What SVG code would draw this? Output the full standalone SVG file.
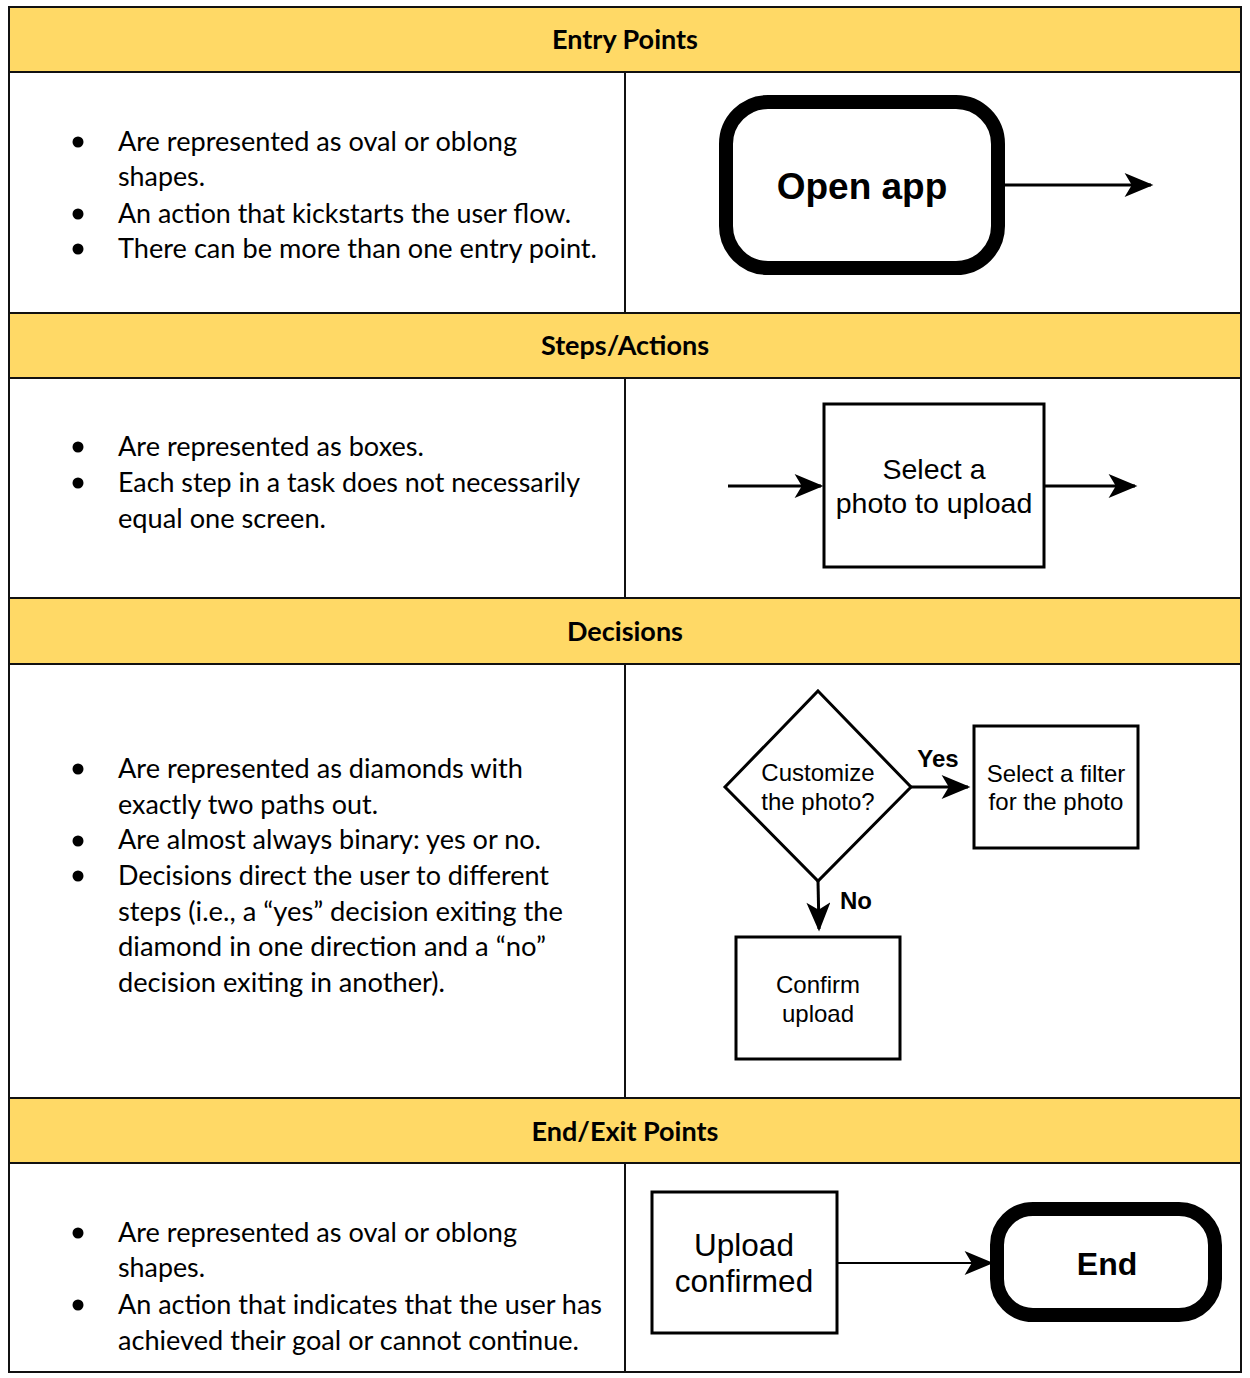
<svg xmlns="http://www.w3.org/2000/svg" width="1250" height="1378" viewBox="0 0 1250 1378">
<style>
.hdr{fill:#FFD966;stroke:#111;stroke-width:2}
.cell{fill:#fff;stroke:#111;stroke-width:2}
.ht{font-family:Lato,"Open Sans",sans-serif;font-weight:bold;font-size:27px;fill:#000;text-anchor:middle}
.bt{font-family:Lato,"Open Sans",sans-serif;font-size:26px;fill:#000}
.dot{fill:#000}
.box{fill:#fff;stroke:#000;stroke-width:3}
.term{fill:#fff;stroke:#000;stroke-width:14}
.nt{font-family:"Liberation Sans",Arial,sans-serif;fill:#000;text-anchor:middle}
.ln{stroke:#000;stroke-width:3;fill:none}
</style>
<defs>
<marker id="ahb" viewBox="0 0 12 10" refX="11" refY="5" markerWidth="30" markerHeight="24" markerUnits="userSpaceOnUse" orient="auto">
<path d="M0,0 L12,5 L0,10 L3,5 Z" fill="#000"/>
</marker>
</defs>
<rect width="1250" height="1378" fill="#fff"/>
<g id="table">
<rect class="cell" x="9" y="7" width="1232" height="1365"/>
<rect class="hdr" x="9" y="7" width="1232" height="65"/>
<rect class="hdr" x="9" y="313" width="1232" height="65"/>
<rect class="hdr" x="9" y="598" width="1232" height="66"/>
<rect class="hdr" x="9" y="1098" width="1232" height="65"/>
<line x1="625" y1="72" x2="625" y2="313" stroke="#111" stroke-width="2"/>
<line x1="625" y1="378" x2="625" y2="598" stroke="#111" stroke-width="2"/>
<line x1="625" y1="664" x2="625" y2="1098" stroke="#111" stroke-width="2"/>
<line x1="625" y1="1163" x2="625" y2="1372" stroke="#111" stroke-width="2"/>
<text class="ht" x="625" y="49">Entry Points</text>
<text class="ht" x="625" y="355">Steps/Actions</text>
<text class="ht" x="625" y="641">Decisions</text>
<text class="ht" x="625" y="1141">End/Exit Points</text>
</g>
<g id="entry-text">
<circle class="dot" cx="78" cy="142" r="5.5"/>
<circle class="dot" cx="78" cy="214" r="5.5"/>
<circle class="dot" cx="78" cy="249" r="5.5"/>
<text class="bt" x="118" y="151" textLength="399" lengthAdjust="spacingAndGlyphs">Are represented as oval or oblong</text>
<text class="bt" x="118" y="186" textLength="87" lengthAdjust="spacingAndGlyphs">shapes.</text>
<text class="bt" x="118" y="223" textLength="453" lengthAdjust="spacingAndGlyphs">An action that kickstarts the user flow.</text>
<text class="bt" x="118" y="258" textLength="479" lengthAdjust="spacingAndGlyphs">There can be more than one entry point.</text>
</g>
<g id="steps-text">
<circle class="dot" cx="78" cy="447" r="5.5"/>
<circle class="dot" cx="78" cy="483" r="5.5"/>
<text class="bt" x="118" y="456" textLength="306" lengthAdjust="spacingAndGlyphs">Are represented as boxes.</text>
<text class="bt" x="118" y="492" textLength="462" lengthAdjust="spacingAndGlyphs">Each step in a task does not necessarily</text>
<text class="bt" x="118" y="528" textLength="208" lengthAdjust="spacingAndGlyphs">equal one screen.</text>
</g>
<g id="decisions-text">
<circle class="dot" cx="78" cy="769" r="5.5"/>
<circle class="dot" cx="78" cy="841" r="5.5"/>
<circle class="dot" cx="78" cy="876" r="5.5"/>
<text class="bt" x="118" y="778" textLength="405" lengthAdjust="spacingAndGlyphs">Are represented as diamonds with</text>
<text class="bt" x="118" y="814" textLength="260" lengthAdjust="spacingAndGlyphs">exactly two paths out.</text>
<text class="bt" x="118" y="849" textLength="423" lengthAdjust="spacingAndGlyphs">Are almost always binary: yes or no.</text>
<text class="bt" x="118" y="885" textLength="431" lengthAdjust="spacingAndGlyphs">Decisions direct the user to different</text>
<text class="bt" x="118" y="921" textLength="445" lengthAdjust="spacingAndGlyphs">steps (i.e., a “yes” decision exiting the</text>
<text class="bt" x="118" y="956" textLength="428" lengthAdjust="spacingAndGlyphs">diamond in one direction and a “no”</text>
<text class="bt" x="118" y="992" textLength="327" lengthAdjust="spacingAndGlyphs">decision exiting in another).</text>
</g>
<g id="end-text">
<circle class="dot" cx="78" cy="1233" r="5.5"/>
<circle class="dot" cx="78" cy="1305" r="5.5"/>
<text class="bt" x="118" y="1242" textLength="399" lengthAdjust="spacingAndGlyphs">Are represented as oval or oblong</text>
<text class="bt" x="118" y="1277" textLength="87" lengthAdjust="spacingAndGlyphs">shapes.</text>
<text class="bt" x="118" y="1314" textLength="484" lengthAdjust="spacingAndGlyphs">An action that indicates that the user has</text>
<text class="bt" x="118" y="1350" textLength="461" lengthAdjust="spacingAndGlyphs">achieved their goal or cannot continue.</text>
</g>
<g id="connectors">
<line class="ln" x1="1005" y1="185" x2="1151" y2="185" marker-end="url(#ahb)"/>
<line class="ln" x1="728" y1="486" x2="821" y2="486" marker-end="url(#ahb)"/>
<line class="ln" x1="1044" y1="486" x2="1135" y2="486" marker-end="url(#ahb)"/>
<line class="ln" x1="911" y1="787" x2="968" y2="787" marker-end="url(#ahb)"/>
<line class="ln" x1="818" y1="881" x2="819" y2="929" marker-end="url(#ahb)"/>
<line x1="837" y1="1263" x2="991" y2="1263" stroke="#000" stroke-width="2" marker-end="url(#ahb)"/>
<text class="nt" x="938" y="767" font-size="24" font-weight="bold">Yes</text>
<text class="nt" x="856" y="909" font-size="24" font-weight="bold">No</text>
</g>
<g id="open-app">
<rect class="term" x="726" y="102" width="272" height="166" rx="42"/>
<text class="nt" x="862" y="199" font-size="37" font-weight="bold">Open app</text>
</g>
<g id="select-photo">
<rect class="box" x="824" y="404" width="220" height="163"/>
<text class="nt" x="934" y="479" font-size="28.5">Select a</text>
<text class="nt" x="934" y="513" font-size="28.5">photo to upload</text>
</g>
<g id="customize">
<polygon points="818,691 911,787 818,881 725,787" fill="#fff" stroke="#000" stroke-width="3"/>
<text class="nt" x="818" y="781" font-size="24">Customize</text>
<text class="nt" x="818" y="810" font-size="24">the photo?</text>
</g>
<g id="select-filter">
<rect class="box" x="974" y="726" width="164" height="122"/>
<text class="nt" x="1056" y="782" font-size="24">Select a filter</text>
<text class="nt" x="1056" y="810" font-size="24">for the photo</text>
</g>
<g id="confirm-upload">
<rect class="box" x="736" y="937" width="164" height="122"/>
<text class="nt" x="818" y="993" font-size="24">Confirm</text>
<text class="nt" x="818" y="1022" font-size="24">upload</text>
</g>
<g id="upload-confirmed">
<rect class="box" x="652" y="1192" width="185" height="141"/>
<text class="nt" x="744" y="1256" font-size="31.5">Upload</text>
<text class="nt" x="744" y="1292" font-size="31.5">confirmed</text>
</g>
<g id="end">
<rect class="term" x="997" y="1209" width="218" height="106" rx="36" stroke-width="12"/>
<text class="nt" x="1107" y="1275" font-size="32" font-weight="bold">End</text>
</g>
</svg>
